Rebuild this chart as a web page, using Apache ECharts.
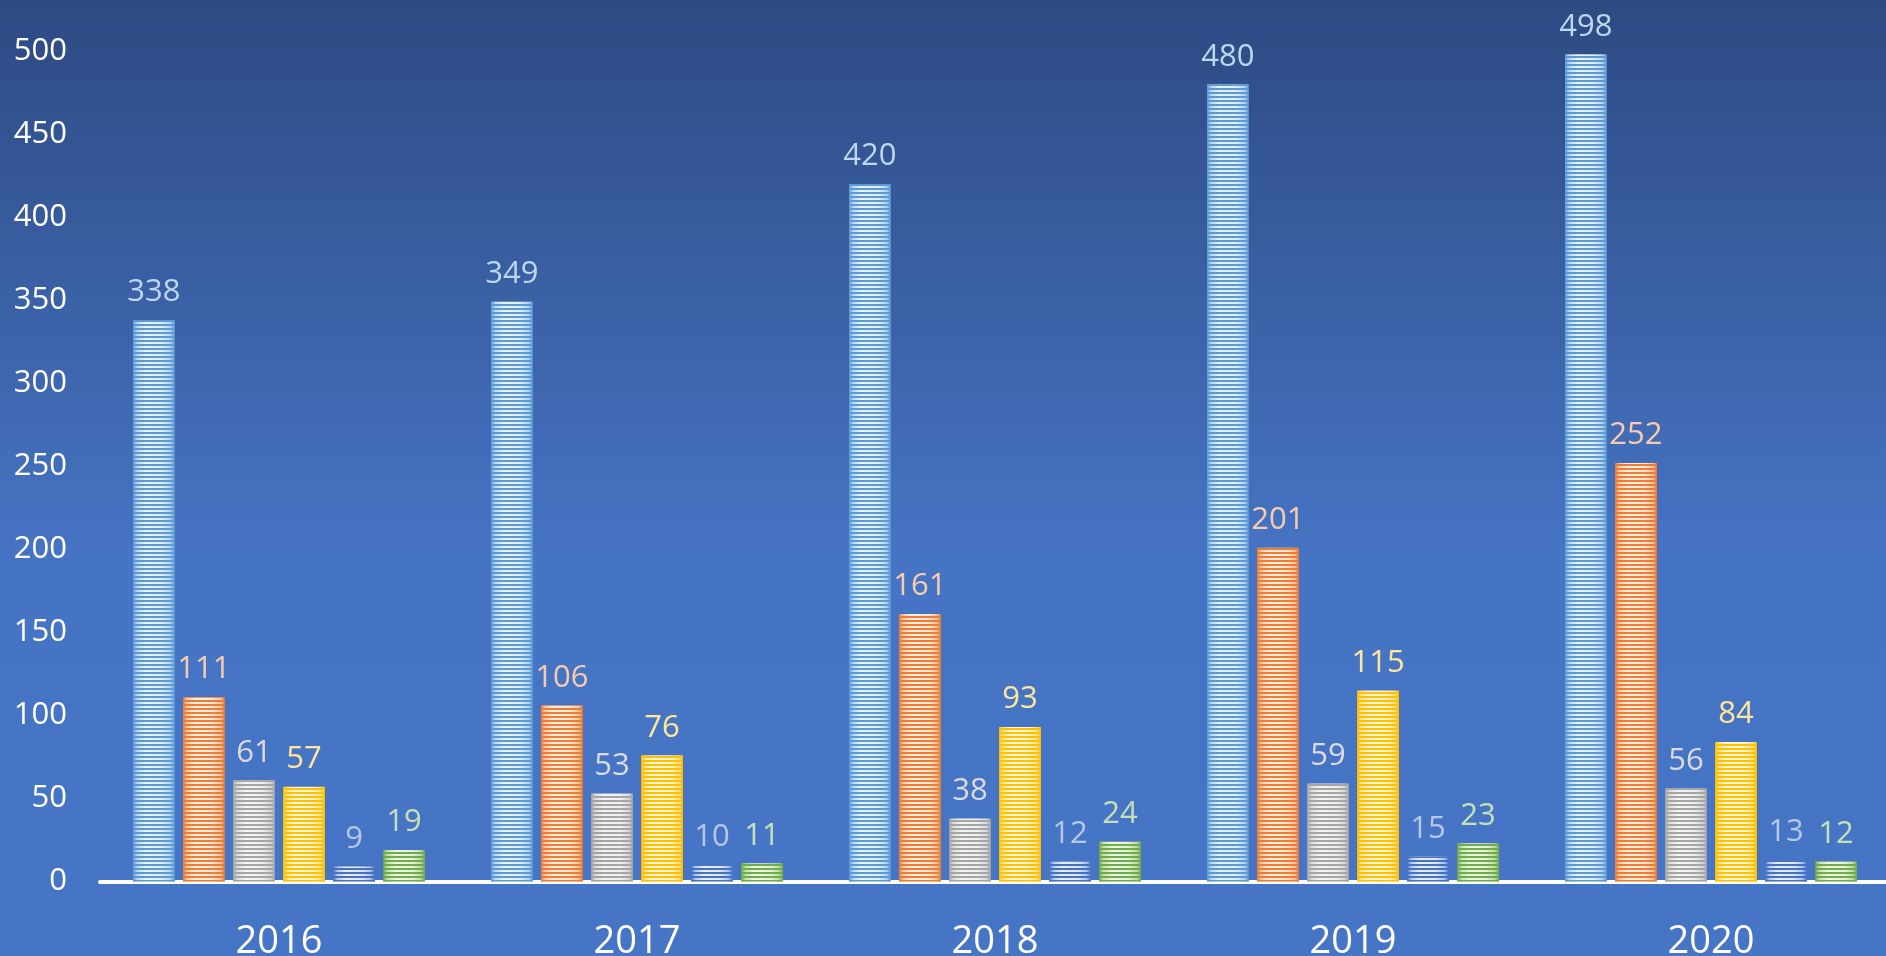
<!DOCTYPE html>
<html>
<head>
<meta charset="utf-8">
<script src="https://cdn.jsdelivr.net/npm/echarts@6/dist/echarts.min.js"></script>
<style>
html,body{margin:0;padding:0;width:1886px;height:956px;overflow:hidden;}
#chart{width:1886px;height:956px;}
</style>
</head>
<body>
<div id="chart"></div>
<script>
const categories = ['2016', '2017', '2018', '2019', '2020'];
const seriesNames = ['Series 1', 'Series 2', 'Series 3', 'Series 4', 'Series 5', 'Series 6'];
const series1 = [338, 349, 420, 480, 498];
const series2 = [111, 106, 161, 201, 252];
const series3 = [61, 53, 38, 59, 56];
const series4 = [57, 76, 93, 115, 84];
const series5 = [9, 10, 12, 15, 13];
const series6 = [19, 11, 24, 23, 12];
const yTicks = [0, 50, 100, 150, 200, 250, 300, 350, 400, 450, 500];

const allValues = [series1, series2, series3, series4, series5, series6];
const baseColors = ['#5b9bd5', '#ed7d31', '#a5a5a5', '#ffc000', '#4472c4', '#70ad47'];
const labelColors = ['#bdd7ee', '#f8cbad', '#dbdbdb', '#ffe699', '#b4c7e7', '#c5e0b4'];

function mix(hex, t) {
  const n = parseInt(hex.slice(1), 16);
  const r = (n >> 16) & 255, g = (n >> 8) & 255, b = n & 255;
  const f = c => Math.round(c + (255 - c) * t);
  return 'rgb(' + f(r) + ',' + f(g) + ',' + f(b) + ')';
}

const chart = echarts.init(document.getElementById('chart'), null, {renderer: 'canvas'});

const series = allValues.map((vals, i) => ({
  name: seriesNames[i],
  type: 'bar',
  data: vals,
  barWidth: 41.7,
  barGap: '20%',
  itemStyle: {
    color: {
      type: 'linear', x: 0, y: 0, x2: 1, y2: 0,
      colorStops: [
        {offset: 0, color: baseColors[i]},
        {offset: 0.1, color: mix(baseColors[i], 0.6)},
        {offset: 0.3, color: mix(baseColors[i], 0.88)},
        {offset: 0.7, color: mix(baseColors[i], 0.82)},
        {offset: 0.9, color: mix(baseColors[i], 0.55)},
        {offset: 1, color: baseColors[i]}
      ]
    },
    decal: {
      symbol: 'rect',
      symbolSize: 1,
      symbolKeepAspect: false,
      color: baseColors[i],
      dashArrayX: [[4, 0]],
      dashArrayY: [2, 2],
      rotation: 0
    }
  },
  label: {
    show: true,
    position: 'top',
    distance: 12,
    color: labelColors[i],
    fontSize: 31,
    fontFamily: 'Open Sans'
  }
}));

chart.setOption({
  backgroundColor: {
    type: 'linear', x: 0, y: 0, x2: 0, y2: 1,
    colorStops: [
      {offset: 0, color: '#2d4a82'},
      {offset: 0.58, color: '#4674c4'},
      {offset: 1, color: '#4775c5'}
    ]
  },
  animation: false,
  grid: {left: 100, width: 1790, top: 51, bottom: 74.5, containLabel: false, outerBoundsMode: 'none'},
  xAxis: {
    type: 'category',
    data: categories,
    axisLine: {show: true, lineStyle: {color: '#ffffff', width: 4}},
    axisTick: {show: false},
    axisLabel: {color: '#ffffff', fontSize: 38, fontFamily: 'Open Sans', margin: 42}
  },
  yAxis: {
    type: 'value',
    min: yTicks[0],
    max: yTicks[yTicks.length - 1],
    interval: yTicks[1] - yTicks[0],
    axisLine: {show: false},
    axisTick: {show: false},
    splitLine: {show: false},
    axisLabel: {color: '#ffffff', fontSize: 31, fontFamily: 'Open Sans', margin: 33}
  },
  series: series
});
</script>
</body>
</html>
